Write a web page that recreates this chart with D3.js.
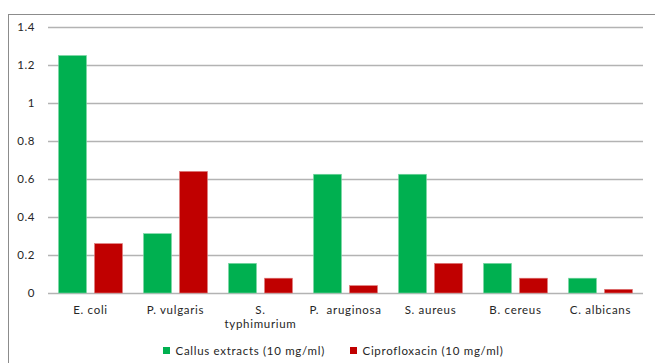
<!DOCTYPE html>
<html>
<head>
<meta charset="utf-8">
<script src="https://cdn.jsdelivr.net/npm/d3@7"></script>
<style>
  html, body { margin: 0; padding: 0; background: #fff; }
  svg { display: block; }
  text { font-family: Lato, "Open Sans", sans-serif; fill: #262626; }
</style>
</head>
<body>
<svg id="chart" width="655" height="363"></svg>
<script>
// Organisms tested (category labels; "\n" splits a label over two lines)
const categories = ["E. coli", "P. vulgaris", "S.\ntyphimurium", "P.  aruginosa", "S. aureus", "B. cereus", "C. albicans"];
// Series values (MIC, mg/ml)
const callusValues = [1.25, 0.3125, 0.156, 0.625, 0.625, 0.156, 0.078];
const ciproValues  = [0.26, 0.64, 0.078, 0.039, 0.156, 0.078, 0.0195];
const seriesNames  = ["Callus extracts (10 mg/ml)", "Ciprofloxacin (10 mg/ml)"];
const seriesColors = ["#00B050", "#C00000"];
const yTicks = [0, 0.2, 0.4, 0.6, 0.8, 1, 1.2, 1.4];

const svg = d3.select("#chart");

// outer chart frame (extends past the right and bottom edges)
svg.append("rect")
  .attr("x", 8.5).attr("y", 14.5)
  .attr("width", 660).attr("height", 360)
  .attr("fill", "none").attr("stroke", "#8c8c8c").attr("stroke-width", 1);

const plot = { left: 48, right: 643, top: 27, bottom: 293 };

const x = d3.scaleBand().domain(categories).range([plot.left, plot.right]).paddingInner(0).paddingOuter(0);
const y = d3.scaleLinear().domain([0, 1.4]).range([plot.bottom, plot.top]);

// gridlines
svg.append("g").selectAll("line").data(yTicks).join("line")
  .attr("x1", plot.left).attr("x2", plot.right)
  .attr("y1", d => Math.round(y(d)) + 0.5).attr("y2", d => Math.round(y(d)) + 0.5)
  .attr("stroke", "#b3b3b3").attr("stroke-width", 1.3);

// y axis labels
const yAxis = d3.axisLeft(y).tickValues(yTicks).tickSize(0).tickPadding(0)
  .tickFormat(d => d3.format("")(+d.toFixed(1)));
const gy = svg.append("g").attr("transform", `translate(35,0)`).call(yAxis);
gy.select(".domain").remove();
gy.selectAll("text").attr("font-size", 11.5).attr("fill", "#262626")
  .attr("letter-spacing", 0.6)
  .style("font-family", "Lato, 'Open Sans', sans-serif");

// bars
const barW = 28, gap = 8;
const series = [callusValues, ciproValues];
series.forEach((vals, si) => {
  svg.append("g").selectAll("rect").data(vals).join("rect")
    .attr("x", (d, i) => x(categories[i]) + (x.bandwidth() - (barW * 2 + gap)) / 2 + si * (barW + gap))
    .attr("y", d => y(d))
    .attr("width", barW)
    .attr("height", d => y(0) - y(d))
    .attr("fill", seriesColors[si])
    .attr("stroke", si === 0 ? "#7fd8a7" : "#e07f7f")
    .attr("stroke-width", 0.6);
});

// category labels
const xl = svg.append("g").attr("font-size", 11.5);
categories.forEach(c => {
  const lines = c.split("\n");
  const t = xl.append("text")
    .attr("x", x(c) + x.bandwidth() / 2)
    .attr("y", 314)
    .attr("text-anchor", "middle")
    .attr("letter-spacing", 0.7)
    .style("white-space", "pre")
    .attr("xml:space", "preserve");
  lines.forEach((ln, k) => {
    t.append("tspan").attr("x", x(c) + x.bandwidth() / 2).attr("dy", k === 0 ? 0 : 13.5).text(ln);
  });
});

// legend
const legendX = [163, 350];
const lg = svg.append("g");
seriesNames.forEach((name, i) => {
  lg.append("rect").attr("x", legendX[i]).attr("y", 347).attr("width", 7).attr("height", 7)
    .attr("fill", seriesColors[i]);
  lg.append("text").attr("x", legendX[i] + 12.5).attr("y", 355)
    .attr("font-size", 11.5).attr("letter-spacing", 0.7).text(name);
});
</script>
</body>
</html>
